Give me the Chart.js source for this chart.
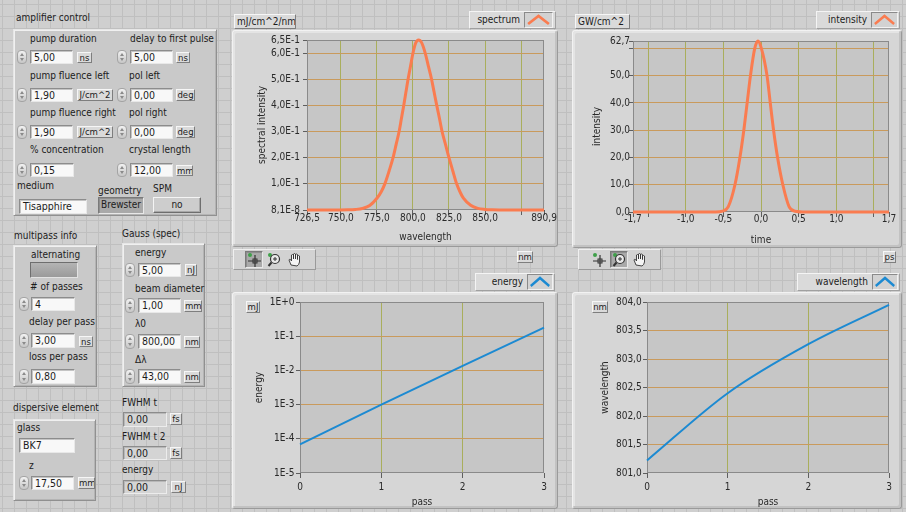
<!DOCTYPE html>
<html><head><meta charset="utf-8">
<script src="https://cdn.jsdelivr.net/npm/chart.js@4.4.0/dist/chart.umd.min.js"></script>
<style>
html,body{margin:0;padding:0;}
body{width:906px;height:512px;overflow:hidden;position:relative;background-color:#cfcfcf;
background-image:linear-gradient(to bottom,#bfbfbf 1px,transparent 1px),linear-gradient(to right,#bfbfbf 1px,transparent 1px);
background-size:12px 12px;background-position:2px 4px;
font-family:'DejaVu Sans Condensed','DejaVu Sans',sans-serif;font-size:10px;color:#1c1c1c;}
.a{position:absolute;box-sizing:border-box;white-space:nowrap;}
.lbl{line-height:12px;height:12px;}
.grp{background:#c9c9c9;border:1px solid;border-color:#e6e6e6 #909090 #909090 #e6e6e6;box-shadow:inset 1px 1px 0 #f0f0f0,inset -1px -1px 0 #b4b4b4;}
.frame{background:#d6d6d6;border:1px solid;border-color:#f2f2f2 #9a9a9a #9a9a9a #f2f2f2;border-radius:3px;box-shadow:inset -2px -2px 0 #c2c2c2,inset 2px 2px 0 #e4e4e4;}
.tb{background:#f8f8f8;border:1px solid;border-color:#8c8c8c #e8e8e8 #e8e8e8 #8c8c8c;box-shadow:inset 1px 1px 0 #c4c4c4;padding-left:3px;line-height:12px;font-size:10.5px;}
.ind{background:#d4d4d4;border:1px solid;border-color:#8c8c8c #ececec #ececec #8c8c8c;box-shadow:inset 1px 1px 0 #b8b8b8;padding-left:3px;line-height:12px;font-size:10.5px;}
.unit{background:#dadada;border:1px solid;border-color:#f6f6f6 #7e7e7e #7e7e7e #f6f6f6;text-align:center;line-height:10px;font-size:9.5px;overflow:hidden;}
.spin{width:10px;border:1px solid #a4a4a4;border-radius:4px;background:linear-gradient(#f2f2f2,#c6c6c6);}
.spin i{position:absolute;left:2px;width:0;height:0;border-left:2px solid transparent;border-right:2px solid transparent;}
.spin i.u{top:2px;border-bottom:3px solid #8a8a8a;}
.spin i.d{bottom:2px;border-top:3px solid #8a8a8a;}
.btn{background:#cdcdcd;border:1px solid;border-color:#f4f4f4 #6e6e6e #6e6e6e #f4f4f4;text-align:center;box-shadow:inset -1px -1px 0 #a8a8a8;}
.btn.dn{background:#a9a9a9;border-color:#7a7a7a #e8e8e8 #e8e8e8 #7a7a7a;box-shadow:inset 1px 1px 0 #8e8e8e;}
.leg{background:#dadada;border:1px solid;border-color:#f4f4f4 #a0a0a0 #a0a0a0 #f4f4f4;line-height:16px;text-align:right;}
.sw{background:#d2d2d2;border:1px solid;border-color:#8a8a8a #f2f2f2 #f2f2f2 #8a8a8a;}
.tbar{background:#d2d2d2;border:1px solid;border-color:#f0f0f0 #9a9a9a #9a9a9a #f0f0f0;}
.led{background:linear-gradient(#b4b4b4,#9a9a9a);border:1px solid;border-color:#6e6e6e #e2e2e2 #e2e2e2 #6e6e6e;}
</style></head>
<body>
<script>
// ---------------- data ----------------
const specWl  = [726.5, 740, 750, 755, 760, 765, 770, 775, 778, 780.5, 783.5, 786.2, 788.3, 790.4, 792, 793.6, 795.1, 796.6, 798.3, 800, 802, 803.9, 806, 808.5, 810.7, 812.9, 814.7, 816.5, 818.4, 820.2, 822.6, 825, 827.6, 830.3, 833, 835, 840, 845, 850, 855, 860, 870, 880, 890.9];
const specVal = [0, 0, 0, 0.0005, 0.002, 0.006, 0.017, 0.045, 0.07, 0.1, 0.15, 0.2, 0.25, 0.3, 0.35, 0.4, 0.45, 0.5, 0.55, 0.6, 0.64, 0.65, 0.64, 0.6, 0.55, 0.5, 0.45, 0.4, 0.35, 0.3, 0.25, 0.2, 0.15, 0.1, 0.065, 0.045, 0.018, 0.006, 0.002, 0.0005, 0, 0, 0, 0];
const intTime = [-1.7, -1.2, -0.8, -0.6, -0.51, -0.434, -0.346, -0.28, -0.228, -0.184, -0.14, -0.083, -0.04, 0.005, 0.08, 0.123, 0.167, 0.22, 0.29, 0.373, 0.45, 0.6, 1.0, 1.7];
const intVal  = [0, 0, 0, 0, 0.3, 2, 10, 20, 30, 40, 50, 60, 62.7, 60, 50, 40, 30, 20, 10, 2, 0.3, 0, 0, 0];
const passes    = [0, 1, 2, 3];
const energyVal = [6.9e-5, 1.0e-3, 1.35e-2, 1.78e-1];
const wlVal     = [801.22, 802.40, 803.26, 803.95];

const specXTicks  = [726.5, 750, 775, 800, 825, 850, 875, 890.9];
const specXLabels = ['726,5', '750,0', '775,0', '800,0', '825,0', '850,0', '', '890,9'];
const specYTicks  = [8.1e-8, 0.1, 0.2, 0.3, 0.4, 0.5, 0.6, 0.65];
const specYLabels = ['8,1E-8', '1,0E-1', '2,0E-1', '3,0E-1', '4,0E-1', '5,0E-1', '6,0E-1', '6,5E-1'];
const intXTicks   = [-1.7, -1.5, -1, -0.5, 0, 0.5, 1, 1.5, 1.7];
const intXLabels  = ['-1,7', '', '-1,0', '-0,5', '0,0', '0,5', '1,0', '', '1,7'];
const intYTicks   = [0, 10, 20, 30, 40, 50, 60, 62.7];
const intYLabels  = ['0,0', '10,0', '20,0', '30,0', '40,0', '50,0', '', '62,7'];
const passTicks   = [0, 1, 2, 3];
const passLabels  = ['0', '1', '2', '3'];
const energyTicks = [1e-5, 1e-4, 1e-3, 1e-2, 1e-1, 1];
const energyLabels= ['1E-5', '1E-4', '1E-3', '1E-2', '1E-1', '1E+0'];
const wlTicks     = [801, 801.5, 802, 802.5, 803, 803.5, 804];
const wlLabels    = ['801,0', '801,5', '802,0', '802,5', '803,0', '803,5', '804,0'];

// ---------------- panel helpers ----------------
function add(cls, x, y, w, h, html, style) {
  const d = document.createElement('div');
  d.className = 'a ' + cls;
  d.style.left = x + 'px'; d.style.top = y + 'px';
  if (w != null) d.style.width = w + 'px';
  if (h != null) d.style.height = h + 'px';
  if (html != null) d.innerHTML = html;
  if (style) d.style.cssText += style;
  document.body.appendChild(d);
  return d;
}
function label(x, cy, t) { add('lbl', x, cy - 6, null, 12, t); }
function spin(x, y, h) { add('spin', x, y, 10, h, '<i class="u"></i><i class="d"></i>'); }
function num(sx, bx, y, w, h, val, unit) {
  if (sx != null) spin(sx, y, h);
  add('tb', bx, y, w, h, val);
  if (unit) add('unit', unit[0], unit[1], unit[2], unit[3], unit[4]);
}
function caret(color) {
  return '<svg width="100%" height="100%" viewBox="0 0 26 14" preserveAspectRatio="none"><polyline points="3,11 13,3 23,11" fill="none" stroke="' + color + '" stroke-width="2.6"/></svg>';
}
function legend(x, y, w, text, sx, sw, color) {
  add('leg', x, y, w, 18, text, 'padding-right:' + (x + w - sx + 3) + 'px;');
  add('sw', sx, y + 1, sw, 16, caret(color));
}

// ---------------- left panel ----------------
label(16, 18, 'amplifier control');
add('grp', 13, 29, 204, 187);
label(30, 39, 'pump duration');   label(130, 39, 'delay to first pulse');
num(17, 30, 50, 43, 14, '5,00', [77, 52, 15, 11, 'ns']);
num(117, 130, 50, 43, 14, '5,00', [176, 52, 14, 11, 'ns']);
label(30, 76, 'pump fluence left'); label(129, 76, 'pol left');
num(17, 30, 88, 43, 14, '1,90', [77, 89, 36, 12, 'J/cm^2']);
num(117, 130, 88, 43, 14, '0,00', [176, 89, 19, 12, 'deg']);
label(30, 113, 'pump fluence right'); label(129, 113, 'pol right');
num(17, 30, 125, 43, 14, '1,90', [77, 126, 36, 12, 'J/cm^2']);
num(117, 130, 125, 43, 14, '0,00', [176, 126, 19, 12, 'deg']);
label(30, 150, '% concentration'); label(129, 150, 'crystal length');
num(17, 30, 163, 44, 14, '0,15');
num(117, 130, 163, 43, 14, '12,00', [176, 165, 17, 11, 'mm']);
label(17, 186, 'medium'); label(98, 191, 'geometry'); label(153, 189, 'SPM');
add('tb', 19, 199, 68, 15, 'Tisapphire');
add('btn dn', 98, 197, 46, 17, 'Brewster', 'line-height:14px;');
add('btn', 153, 197, 48, 16, 'no', 'line-height:13px;');

label(14, 236, 'multipass info');
add('grp', 13, 245, 84, 142);
label(31, 255, 'alternating');
add('led', 30, 262, 48, 16);
label(30, 287, '# of passes');
num(19, 31, 297, 44, 14, '4');
label(29, 322, 'delay per pass');
num(19, 31, 333, 44, 15, '3,00', [79, 336, 14, 11, 'ns']);
label(29, 357, 'loss per pass');
num(19, 31, 369, 44, 15, '0,80');

label(122, 234, 'Gauss (spec)');
add('grp', 122, 243, 83, 144);
label(135, 253, 'energy');
num(125, 138, 263, 43, 14, '5,00', [185, 264, 12, 12, 'nJ']);
label(135, 289, 'beam diameter');
num(125, 138, 298, 43, 15, '1,00', [184, 300, 18, 12, 'mm']);
label(135, 324, 'λ0');
num(125, 138, 334, 43, 15, '800,00', [184, 336, 16, 12, 'nm']);
label(135, 360, 'Δλ');
num(125, 138, 369, 43, 15, '43,00', [184, 371, 16, 12, 'nm']);
label(122, 403, 'FWHM t');
add('ind', 123, 412, 44, 15, '0,00'); add('unit', 170, 413, 12, 12, 'fs');
label(122, 437, 'FWHM t 2');
add('ind', 123, 446, 44, 14, '0,00'); add('unit', 170, 447, 12, 12, 'fs');
label(122, 470, 'energy');
add('ind', 123, 480, 44, 14, '0,00'); add('unit', 171, 481, 15, 12, 'nJ');

label(13, 408, 'dispersive element');
add('grp', 13, 419, 83, 82);
label(17, 428, 'glass');
add('tb', 19, 438, 56, 15, 'BK7');
label(29, 466, 'z');
num(19, 31, 476, 43, 14, '17,50', [78, 477, 17, 12, 'mm']);

// ---------------- graph frames ----------------
const ORANGE = '#fa7c50', BLUE = '#1c8ad2';
add('frame', 232, 30, 326, 217);
add('unit', 234, 14, 62, 15, 'mJ/cm^2/nm', 'line-height:13px;text-align:left;padding-left:2px;font-size:10px;');
legend(469, 11, 87, 'spectrum', 524, 29, ORANGE);
add('frame', 572, 30, 330, 218);
add('unit', 575, 14, 55, 15, 'GW/cm^2', 'line-height:13px;text-align:left;padding-left:2px;font-size:10px;');
legend(816, 11, 84, 'intensity', 871, 27, ORANGE);
add('frame', 232, 292, 326, 217);
legend(475, 273, 80, 'energy', 527, 26, BLUE);
add('unit', 246, 301, 14, 12, 'mJ');
add('frame', 572, 292, 330, 217);
legend(797, 273, 103, 'wavelength', 872, 26, BLUE);
add('unit', 592, 301, 16, 12, 'nm');
add('unit', 517, 251, 16, 12, 'nm');
add('unit', 883, 251, 13, 12, 'ps');

const icCursor = '<svg width="15" height="15"><circle cx="3" cy="3" r="2" fill="#3fa04a"/><path d="M1 9H14M8 3V15" stroke="#333" stroke-width="1.2"/><rect x="6" y="7" width="4" height="4" fill="none" stroke="#333"/></svg>';
const icZoom = '<svg width="15" height="15"><circle cx="3" cy="3" r="2" fill="#3fa04a"/><circle cx="8" cy="7" r="4.5" fill="#e8e8e8" stroke="#333" stroke-width="1.2"/><path d="M6 7H10M8 5V9" stroke="#333"/><path d="M4.5 10.5L1.5 14" stroke="#333" stroke-width="2"/></svg>';
const icHand = '<svg width="15" height="15"><path d="M4 13 L2 8 Q2 7 3.5 7.5 L4.5 9 L4.5 3 Q5.5 2 6.5 3 L6.5 7 L6.5 2 Q7.5 1 8.5 2 L8.5 7 L8.5 2.5 Q9.5 1.5 10.5 2.5 L10.5 7.5 L10.5 4 Q11.5 3 12.5 4 L12.5 10 Q12 13 10 14 Z" fill="#f4f4f4" stroke="#333" stroke-width="0.9"/></svg>';
function toolbar(x, pressed) {
  add('tbar', x, 249, 83, 21);
  const ics = [icCursor, icZoom, icHand];
  for (let i = 0; i < 3; i++) {
    add('btn' + (i === pressed ? ' dn' : ''), x + 12 + i * 20, 251, 18, 17, ics[i], 'padding:0;line-height:0;display:flex;align-items:center;justify-content:center;' + (i === pressed ? '' : 'background:#d2d2d2;border-color:#d2d2d2;box-shadow:none;'));
  }
}
toolbar(233, 0);
toolbar(578, 1);

// ---------------- charts ----------------
const FF = "'DejaVu Sans Condensed','DejaVu Sans',sans-serif";
const FS = 10, LH = FS * 1.2;
const TC = '#2a2a2a', XG = '#a9ae5c', YG = '#c99a5c', TICK = '#5e5e5e', PLOTBG = '#c6c6c6';
const areaPlugin = {
  id: 'plotArea',
  beforeDraw(ch) {
    const { ctx, chartArea: a } = ch;
    ctx.save(); ctx.fillStyle = PLOTBG;
    ctx.fillRect(a.left, a.top, a.right - a.left, a.bottom - a.top); ctx.restore();
  },
  beforeDatasetsDraw(ch) {
    const { ctx, chartArea: a } = ch;
    ctx.save(); ctx.strokeStyle = '#8a8a8a'; ctx.lineWidth = 1;
    ctx.strokeRect(a.left + 0.5, a.top + 0.5, a.right - a.left - 1, a.bottom - a.top - 1); ctx.restore();
  }
};
function makeChart(cfg) {
  const box = cfg.box, area = cfg.area;
  const c = document.createElement('canvas');
  c.width = box.w; c.height = box.h;
  c.style.cssText = 'position:absolute;left:' + box.x + 'px;top:' + box.y + 'px;width:' + box.w + 'px;height:' + box.h + 'px;';
  document.body.appendChild(c);
  const font = { family: FF, size: FS, lineHeight: 1.2 };
  const yW = area.l - box.x, xH = box.y + box.h - area.b;
  const nX = cfg.xTicks.length, nY = cfg.yTicks.length;
  return new Chart(c.getContext('2d'), {
    type: 'line',
    data: { datasets: [{ data: cfg.xs.map((x, i) => ({ x: x, y: cfg.ys[i] })), borderColor: cfg.color, borderWidth: cfg.lw,
      pointRadius: 0, fill: false, tension: 0, cubicInterpolationMode: cfg.mono ? 'monotone' : 'default', clip: 4 }] },
    options: {
      responsive: false, animation: false, devicePixelRatio: 1, events: [],
      layout: { padding: { left: 0, top: area.t - box.y, right: box.x + box.w - area.r, bottom: 0 } },
      plugins: { legend: { display: false }, tooltip: { enabled: false } },
      scales: {
        x: {
          type: 'linear', position: 'bottom', min: cfg.xTicks[0], max: cfg.xTicks[nX - 1],
          afterBuildTicks: s => { s.ticks = cfg.xTicks.map(v => ({ value: v })); },
          afterFit: s => { s.height = xH; s.paddingLeft = 0; s.paddingRight = 0; },
          ticks: { autoSkip: false, maxRotation: 0, minRotation: 0, color: TC, font: font,
            padding: cfg.xLabelY - area.b - 5 - LH / 2, callback: (v, i) => cfg.xLabels[i] },
          grid: { color: ctx => (ctx.index === 0 || ctx.index === nX - 1) ? 'rgba(0,0,0,0)' : XG, tickColor: TICK, tickLength: 5, lineWidth: 1 },
          border: { display: false },
          title: { display: true, text: cfg.xTitle, color: TC, font: font, padding: { top: 0, bottom: box.y + box.h - cfg.xTitleY - LH / 2 } }
        },
        y: {
          type: cfg.ylog ? 'logarithmic' : 'linear', position: 'left', min: cfg.yTicks[0], max: cfg.yTicks[nY - 1],
          afterBuildTicks: s => { s.ticks = cfg.yTicks.map(v => ({ value: v })); },
          afterFit: s => { s.width = yW; s.paddingTop = 0; s.paddingBottom = 0; },
          ticks: { autoSkip: false, color: TC, font: font, padding: area.l - 4 - cfg.yLabelR, callback: (v, i) => cfg.yLabels[i] },
          grid: { color: ctx => (ctx.index === 0 || ctx.index === nY - 1) ? 'rgba(0,0,0,0)' : YG, tickColor: TICK, tickLength: 4, lineWidth: 1 },
          border: { display: false },
          title: { display: true, text: cfg.yTitle, color: TC, font: font, padding: { top: cfg.yTitleX - box.x - LH / 2, bottom: 0 } }
        }
      }
    },
    plugins: [areaPlugin]
  });
}

makeChart({ box: { x: 232, y: 30, w: 340, h: 217 }, area: { l: 307, t: 40, r: 544, b: 210 },
  xs: specWl, ys: specVal, color: ORANGE, lw: 3, mono: true,
  xTicks: specXTicks, xLabels: specXLabels, yTicks: specYTicks, yLabels: specYLabels,
  xTitle: 'wavelength', yTitle: 'spectral intensity', xLabelY: 218.5, xTitleY: 237.3, yLabelR: 300, yTitleX: 262 });

makeChart({ box: { x: 572, y: 30, w: 334, h: 218 }, area: { l: 633, t: 41, r: 889, b: 212 },
  xs: intTime, ys: intVal, color: ORANGE, lw: 3, mono: true,
  xTicks: intXTicks, xLabels: intXLabels, yTicks: intYTicks, yLabels: intYLabels,
  xTitle: 'time', yTitle: 'intensity', xLabelY: 219.5, xTitleY: 240, yLabelR: 630, yTitleX: 597.3 });

makeChart({ box: { x: 232, y: 292, w: 330, h: 217 }, area: { l: 300, t: 302, r: 544, b: 473 },
  xs: passes, ys: energyVal, color: BLUE, lw: 2, mono: false, ylog: true,
  xTicks: passTicks, xLabels: passLabels, yTicks: energyTicks, yLabels: energyLabels,
  xTitle: 'pass', yTitle: 'energy', xLabelY: 487, xTitleY: 502, yLabelR: 294.5, yTitleX: 259.3 });

makeChart({ box: { x: 572, y: 292, w: 334, h: 217 }, area: { l: 647, t: 302, r: 889, b: 473 },
  xs: passes, ys: wlVal, color: BLUE, lw: 2, mono: true,
  xTicks: passTicks, xLabels: passLabels, yTicks: wlTicks, yLabels: wlLabels,
  xTitle: 'pass', yTitle: 'wavelength', xLabelY: 487, xTitleY: 502, yLabelR: 641.7, yTitleX: 605 });
</script>
</body></html>
